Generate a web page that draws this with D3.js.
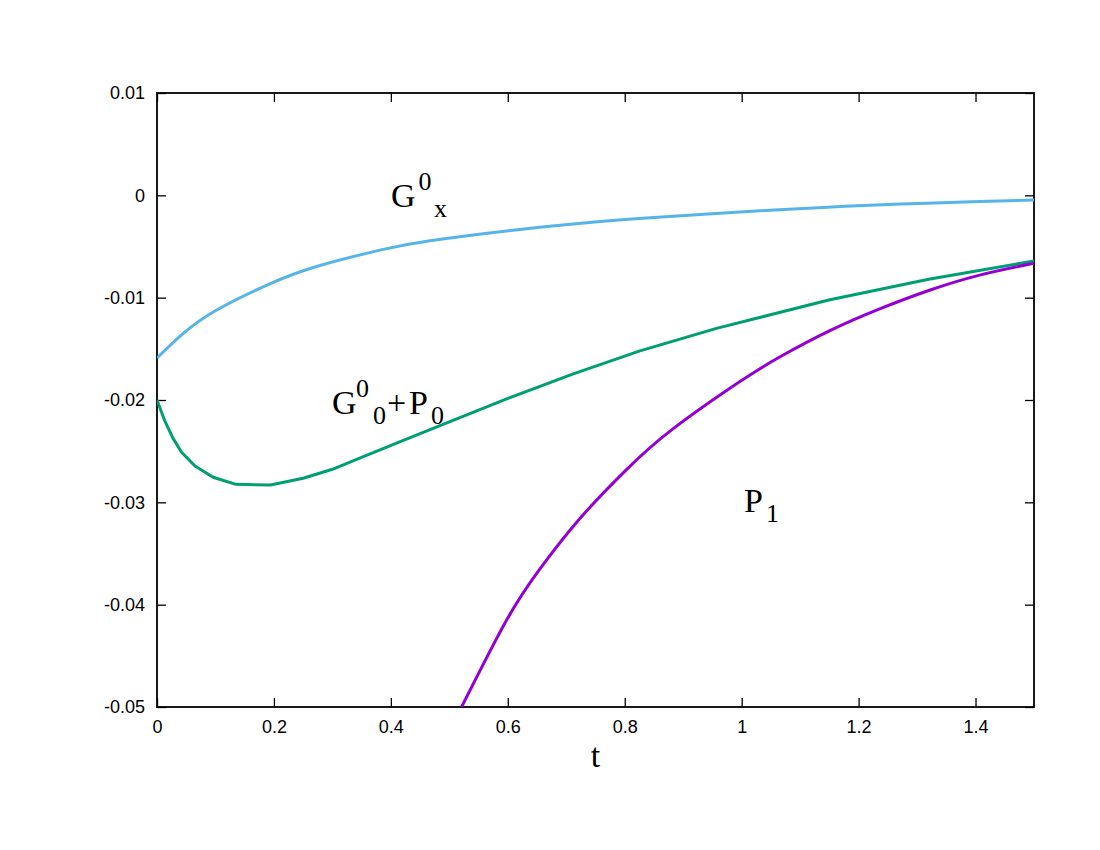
<!DOCTYPE html>
<html>
<head>
<meta charset="utf-8">
<script src="https://cdn.jsdelivr.net/npm/d3@7"></script>
<style>
  body { margin: 0; background: #fff; }
</style>
</head>
<body>
<div id="chart"></div>
<script>
// datos

const gxT = [0, 0.045, 0.102, 0.188, 0.273, 0.387, 0.467, 0.601, 0.735, 0.87, 1.004, 1.139, 1.273, 1.407, 1.5]
const gxV = [-0.0159, -0.01349, -0.01121, -0.00877, -0.00695, -0.00528, -0.00443, -0.00345, -0.00267, -0.00209, -0.0016, -0.00118, -0.00085, -0.0006, -0.00046]

const g0T = [0, 0.013, 0.027, 0.042, 0.065, 0.096, 0.135, 0.194, 0.25, 0.3, 0.353, 0.415, 0.484, 0.598, 0.712, 0.826, 0.957, 1.149, 1.32, 1.5]
const g0V = [-0.0200, -0.0220, -0.0237, -0.0251, -0.02645, -0.02755, -0.02824, -0.02831, -0.02765, -0.02677, -0.02554, -0.0241, -0.0225, -0.0199, -0.01745, -0.0152, -0.013, -0.01023, -0.0082, -0.00642]

const p1T = [0.521, 0.598, 0.655, 0.723, 0.803, 0.883, 0.997, 1.065, 1.15, 1.236, 1.32, 1.407, 1.5]
const p1V = [-0.05, -0.0415, -0.0365, -0.0316, -0.0268, -0.0228, -0.0182, -0.0158, -0.01325, -0.0111, -0.0093, -0.0078, -0.00664]

const xTicks = [0, 0.2, 0.4, 0.6, 0.8, 1, 1.2, 1.4]
const yTicks = [0.01, 0, -0.01, -0.02, -0.03, -0.04, -0.05]

// constantes

const width = 1100
const height = 850
const margin = {top: 93, bottom: 143, left: 157, right: 66}

const svg = d3.select("#chart").append("svg").attr("width", width).attr("height", height)

const x = d3.scaleLinear().domain([0, 1.5]).range([margin.left, width - margin.right])
const y = d3.scaleLinear().domain([-0.05, 0.01]).range([height - margin.bottom, margin.top])

// ejes (ticks hacia dentro, espejados)

const fmt = d => String(+d.toFixed(2))

const xAxis = d3.axisBottom(x).tickValues(xTicks).tickSizeInner(-9).tickSizeOuter(0).tickPadding(13).tickFormat(fmt)
const xAxisTop = d3.axisTop(x).tickValues(xTicks).tickSizeInner(-9).tickSizeOuter(0).tickFormat("")
const yAxis = d3.axisLeft(y).tickValues(yTicks).tickSizeInner(-9).tickSizeOuter(0).tickPadding(12).tickFormat(fmt)
const yAxisRight = d3.axisRight(y).tickValues(yTicks).tickSizeInner(-9).tickSizeOuter(0).tickFormat("")

const axisGroup = svg.append("g").attr("id", "axisGroup")
axisGroup.append("g").attr("transform", `translate(0,${height - margin.bottom})`).call(xAxis)
axisGroup.append("g").attr("transform", `translate(0,${margin.top})`).call(xAxisTop)
axisGroup.append("g").attr("transform", `translate(${margin.left},0)`).call(yAxis)
axisGroup.append("g").attr("transform", `translate(${width - margin.right},0)`).call(yAxisRight)

axisGroup.selectAll(".domain").remove()
axisGroup.selectAll(".tick line").attr("stroke", "#000").attr("stroke-width", 1.3)
axisGroup.selectAll(".tick text")
    .attr("font-family", "'Liberation Sans', Arial, sans-serif")
    .attr("font-size", "18px")
    .attr("fill", "#000")

// marco

svg.append("rect")
    .attr("x", margin.left)
    .attr("y", margin.top)
    .attr("width", width - margin.left - margin.right)
    .attr("height", height - margin.top - margin.bottom)
    .attr("fill", "none")
    .attr("stroke", "#000")
    .attr("stroke-width", 1.8)

// curvas

svg.append("clipPath").attr("id", "clip").append("rect")
    .attr("x", margin.left).attr("y", margin.top)
    .attr("width", width - margin.left - margin.right)
    .attr("height", height - margin.top - margin.bottom)

const series = [
    {t: gxT, v: gxV, color: "#56b4e9", curve: d3.curveNatural},
    {t: g0T, v: g0V, color: "#009e73", curve: d3.curveLinear},
    {t: p1T, v: p1V, color: "#9400d3", curve: d3.curveNatural}
]

const line = d3.line().x(d => x(d[0])).y(d => y(d[1]))

const elementGroup = svg.append("g").attr("id", "elementGroup").attr("clip-path", "url(#clip)")
elementGroup.selectAll("path").data(series)
    .join("path")
        .attr("fill", "none")
        .attr("stroke", d => d.color)
        .attr("stroke-width", 3)
        .attr("stroke-linejoin", "round")
        .attr("d", d => line.curve(d.curve)(d.t.map((t, i) => [t, d.v[i]])))

// etiquetas (texto con super/subíndices)

const serif = "'Liberation Serif', 'Times New Roman', serif"

function label(py, parts) {
    const txt = svg.append("text")
        .attr("y", py)
        .attr("font-family", serif)
        .attr("fill", "#000")
    parts.forEach(p => {
        const dy = p.pos == "sup" ? -17 : p.pos == "sub" ? 10 : 0
        txt.append("tspan")
            .attr("x", p.x)
            .attr("y", py + dy)
            .attr("font-size", p.pos ? "26px" : "34px")
            .text(p.s)
    })
}

label(207, [{s: "G", x: 391}, {s: "0", pos: "sup", x: 418.5}, {s: "x", pos: "sub", x: 434}])
label(414, [{s: "G", x: 332}, {s: "0", pos: "sup", x: 356}, {s: "0", pos: "sub", x: 373},
            {s: "+", x: 387}, {s: "P", x: 409}, {s: "0", pos: "sub", x: 431}])
label(512, [{s: "P", x: 744}, {s: "1", pos: "sub", x: 766}])

svg.append("text")
    .attr("x", (margin.left + width - margin.right) / 2)
    .attr("y", 767)
    .attr("text-anchor", "middle")
    .attr("font-family", serif)
    .attr("font-size", "34px")
    .text("t")
</script>
</body>
</html>
